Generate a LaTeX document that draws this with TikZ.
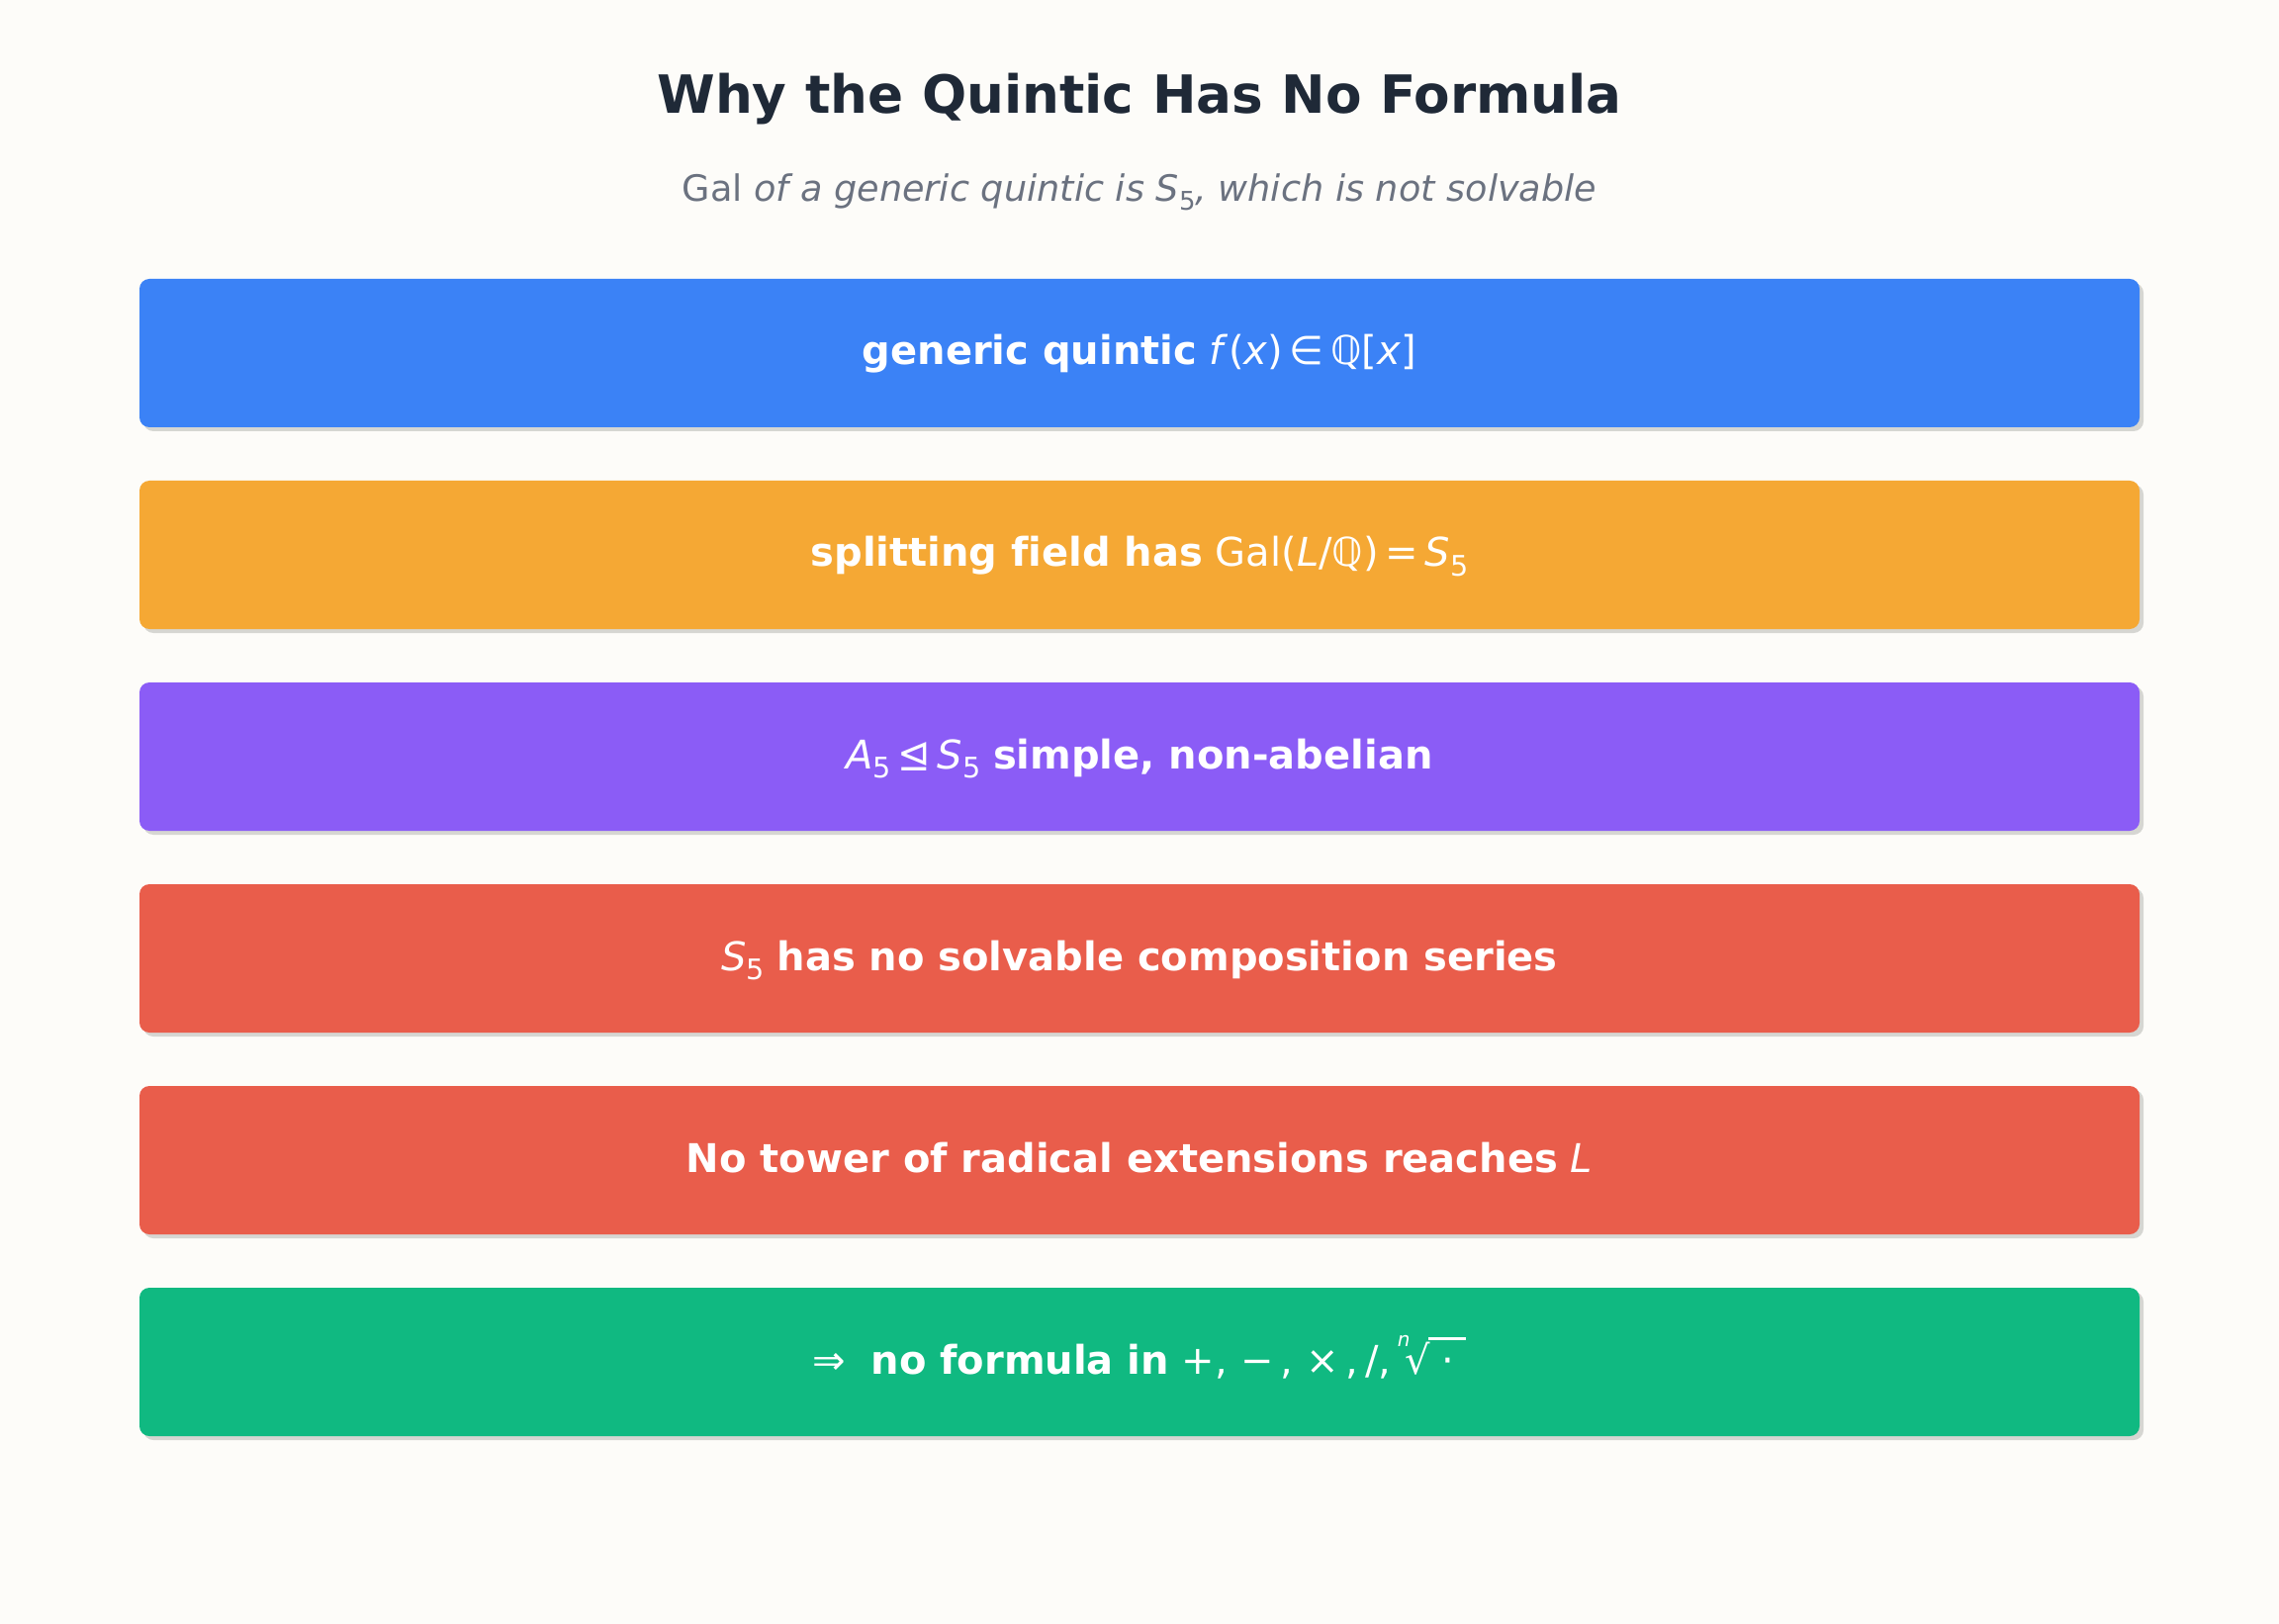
\documentclass[tikz,border=0pt]{standalone}
\usepackage{fontspec}
\setmainfont{DejaVu Sans}[Ligatures=NoCommon]
\usetikzlibrary{shadows}
\definecolor{bgc}{HTML}{FDFCF9}
\definecolor{titlec}{HTML}{1F2937}
\definecolor{subc}{HTML}{6B7280}
\definecolor{shadc}{HTML}{D6D6D2}
\definecolor{cblue}{HTML}{3B82F6}
\definecolor{corange}{HTML}{F5A834}
\definecolor{cpurple}{HTML}{8B5CF6}
\definecolor{cred}{HTML}{E95D4B}
\definecolor{cgreen}{HTML}{10B981}
\newcommand\mysub[2]{\raisebox{-0.24em}{\fontsize{#1}{#1}\selectfont #2}}
\newcommand\myradical{{\raisebox{0.68em}{\fontsize{10pt}{10pt}\selectfont\itshape n}\kern-0.12em√\kern-0.05em\rlap{\rule[0.86em]{0.95em}{0.055em}}\hbox to 0.95em{\hss·\hss}}}
\tikzset{
  stepbox/.style={fill=#1, rounded corners=5pt, minimum width=1011pt, minimum height=75pt,
    inner sep=0pt, text=white, font=\fontsize{20pt}{24pt}\selectfont,
    text height=15pt, text depth=3pt,
    drop shadow={shadow xshift=2pt, shadow yshift=-2pt, fill=shadc, opacity=1}},
  titletext/.style={text=titlec, font=\fontsize{26.6pt}{32pt}\selectfont\bfseries, anchor=base, inner sep=0pt},
  subtext/.style={text=subc, font=\fontsize{18.3pt}{22pt}\selectfont, anchor=base, inner sep=0pt}
}
\begin{document}
\begin{tikzpicture}[x=0.5pt, y=-0.5pt]
\fill[bgc] (0,0) rectangle (2304,1642);
\useasboundingbox (0,0) rectangle (2304,1642);
\node[titletext] (title) at (1152,115) {Why the Quintic Has No Formula};
\node[subtext] (subtitle) at (1152,204) {Gal \textit{of a generic quintic is S}\mysub{13pt}{5}\textit{, which is not solvable}};
\node[stepbox=cblue] (b1) at (1152,357) {\textbf{generic quintic} \textit{f}(\textit{x})\,∈\,\textit{ℚ}[\textit{x}]};
\node[stepbox=corange] (b2) at (1152,561) {\textbf{splitting field has} Gal(\textit{L}/\textit{ℚ})\,=\,\textit{S}\mysub{14.3pt}{5}};
\node[stepbox=cpurple] (b3) at (1152,765) {\textit{A}\mysub{14.3pt}{5}\,⊴\,\textit{S}\mysub{14.3pt}{5} \textbf{simple, non-abelian}};
\node[stepbox=cred] (b4) at (1152,969) {\textit{S}\mysub{14.3pt}{5} \textbf{has no solvable composition series}};
\node[stepbox=cred] (b5) at (1152,1173) {\textbf{No tower of radical extensions reaches} \textit{L}};
\node[stepbox=cgreen] (b6) at (1152,1377) {⇒\ \ \textbf{no formula in} +,\,\,−\,,\,\,×\,,\,/,\,\myradical};
\end{tikzpicture}
\end{document}
